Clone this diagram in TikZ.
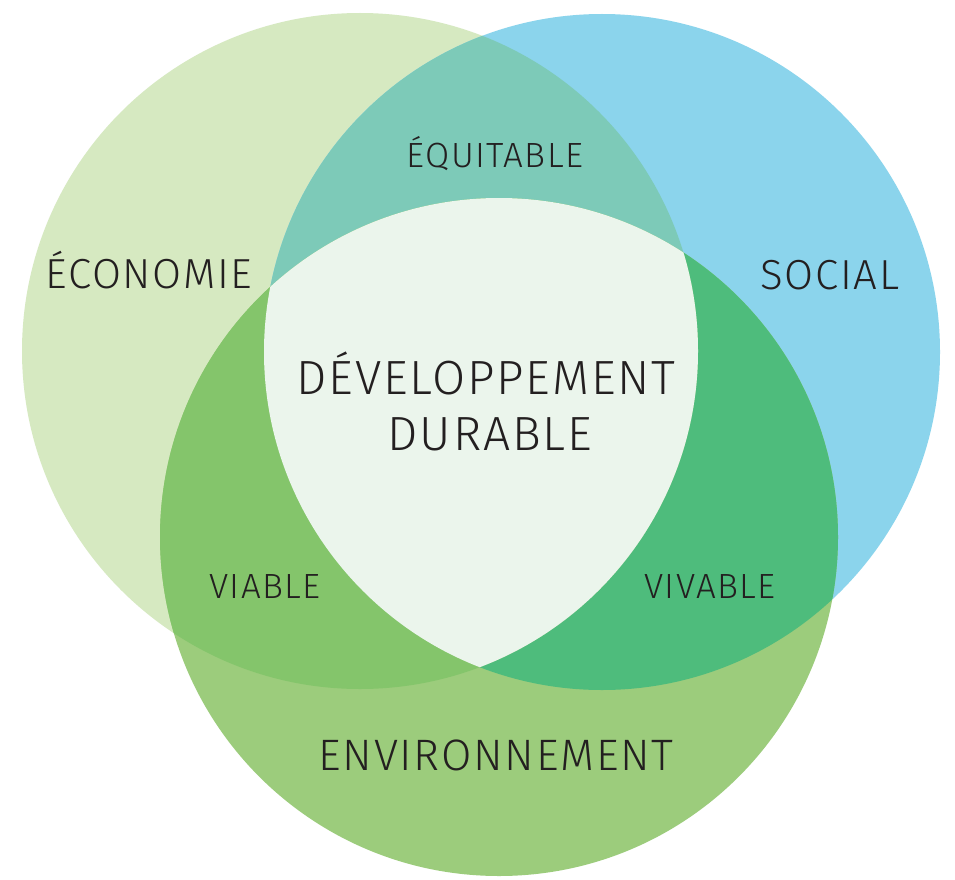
\documentclass[tikz,border=0pt]{standalone}
\usepackage{fontspec}
\setmainfont{Fira Sans}[UprightFont=* Light, LetterSpace=4]
\usetikzlibrary{positioning}

\definecolor{ecocol}{HTML}{D6E9C1}
\definecolor{soccol}{HTML}{8BD4EC}
\definecolor{envcol}{HTML}{9CCC7C}
\definecolor{ecosoc}{HTML}{7DCAB8}
\definecolor{ecoenv}{HTML}{84C56B}
\definecolor{socenv}{HTML}{4EBC7C}
\definecolor{centrecol}{HTML}{EBF5EC}
\definecolor{ink}{HTML}{231F20}

\begin{document}
\begin{tikzpicture}[x=1pt,y=-1pt,
  lbl/.style={anchor=base,inner sep=0pt,text=ink},
  big/.style={lbl,font=\fontsize{48}{48}\selectfont},
  mid/.style={lbl,font=\fontsize{42}{42}\selectfont},
  small/.style={lbl,font=\fontsize{35}{35}\selectfont}]

\fill[white] (0,0) rectangle (955,880);
\useasboundingbox (0,0) rectangle (955,880);

\coordinate (eco) at (360,351);
\coordinate (soc) at (602,352);
\coordinate (env) at (499,537);

\fill[ecocol] (eco) circle[radius=338pt];
\fill[soccol] (soc) circle[radius=338pt];
\fill[envcol] (env) circle[radius=339pt];
\begin{scope}
  \clip (soc) circle[radius=338pt];
  \fill[socenv] (env) circle[radius=339pt];
\end{scope}
\begin{scope}
  \clip (eco) circle[radius=338pt];
  \fill[ecosoc] (soc) circle[radius=338pt];
  \fill[ecoenv] (env) circle[radius=339pt];
  \clip (soc) circle[radius=338pt];
  \fill[centrecol] (env) circle[radius=339pt];
\end{scope}

\node[mid] (economie) at (149,288) {ÉCONOMIE};
\node[mid] (social) at (830,289) {SOCIAL};
\node[mid,font=\fontsize{44}{44}\selectfont] (environnement) at (496,770) {ENVIRONNEMENT};
\node[small] (equitable) at (495,167) {ÉQUITABLE};
\node[small] (viable) at (265,598) {VIABLE};
\node[small] (vivable) at (710,598) {VIVABLE};
\node[big] (dev) at (486,394) {DÉVELOPPEMENT};
\node[big] (durable) at (490,450) {DURABLE};

\end{tikzpicture}
\end{document}
